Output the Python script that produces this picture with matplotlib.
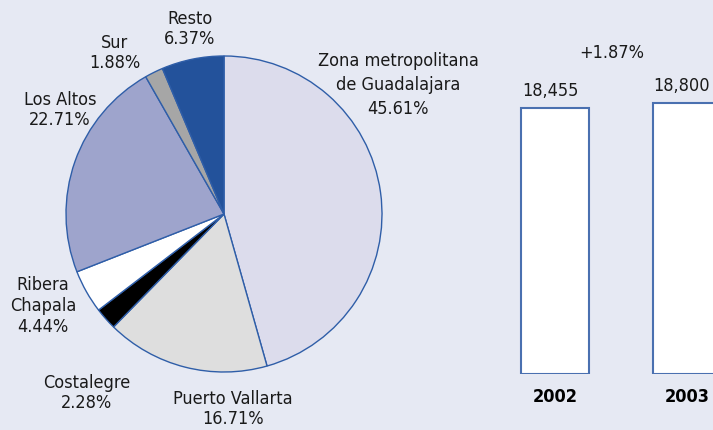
import matplotlib.pyplot as plt

plt.rcParams['font.family'] = ['Liberation Sans Narrow', 'DejaVu Sans']
plt.rcParams['font.stretch'] = 'condensed'
plt.rcParams['font.size'] = 13

# pie data (clockwise from 12 o'clock)
regiones = ['Zona metropolitana\nde Guadalajara', 'Puerto Vallarta', 'Costalegre',
            'Ribera\nChapala', 'Los Altos', 'Sur', 'Resto']
porcentajes = [45.61, 16.71, 2.28, 4.44, 22.71, 1.88, 6.37]
colores = ['#DCDCEC', '#DEDEDE', '#000000', '#FFFFFF', '#9EA4CC', '#A6A6A6', '#23529B']

# bar data
anios = ['2002', '2003']
totales = [18455, 18800]

bg = '#E6E9F3'
fig = plt.figure(figsize=(7.13, 4.30), dpi=100, facecolor=bg)

# ---- pie ----
W, H = 713., 430.
cx, cy, r = 224., 214., 158.
ax = fig.add_axes([(cx - r) / W, (H - cy - r) / H, 2 * r / W, 2 * r / H])
ax.set_facecolor(bg)
ax.pie(porcentajes, colors=colores, startangle=90, counterclock=False,
       wedgeprops=dict(edgecolor='#2F5EA8', linewidth=1.0))
ax.set_xlim(-1, 1); ax.set_ylim(-1, 1)
ax.set_aspect('equal')
ax.axis('off')

# label centres in pixels (x, y from top)
pos_labels = [(398, 85), (233, 409), (87, 393), (43, 306), (60, 110), (115, 53), (190, 29)]
for nombre, pct, (px, py) in zip(regiones, porcentajes, pos_labels):
    ls = 1.45 if nombre.startswith('Zona') else 1.2
    fig.text(px / W, 1 - py / H, '%s\n%.2f%%' % (nombre, pct), ha='center', va='center',
             linespacing=ls, color='#1a1a1a')

# ---- bars ----
bx = fig.add_axes([489 / W, (H - 373.7) / H, 264 / W, 288.2 / H])
bx.set_facecolor(bg)
bx.bar([0, 1], totales, width=0.515, color='white', edgecolor='#4A70B0', linewidth=1.5)
bx.set_xlim(-0.5, 1.5)
bx.set_ylim(0, 20000)
for i, v in enumerate(totales):
    bx.annotate('{:,}'.format(v), (i, v), xytext=(-5, 12), textcoords='offset pixels',
                ha='center', va='baseline', color='#1a1a1a')
cambio = (totales[1] / totales[0] - 1) * 100
bx.annotate('+%.2f%%' % cambio, (0.5, max(totales)), xytext=(-9, 45), textcoords='offset pixels',
            ha='center', va='baseline', color='#1a1a1a')
bx.set_xticks([0, 1])
bx.set_xticklabels(anios, fontweight='bold')
bx.tick_params(axis='x', length=0, pad=10)
bx.set_yticks([])
for s in bx.spines.values():
    s.set_visible(False)

plt.savefig('out.png', dpi=100, facecolor=bg)
